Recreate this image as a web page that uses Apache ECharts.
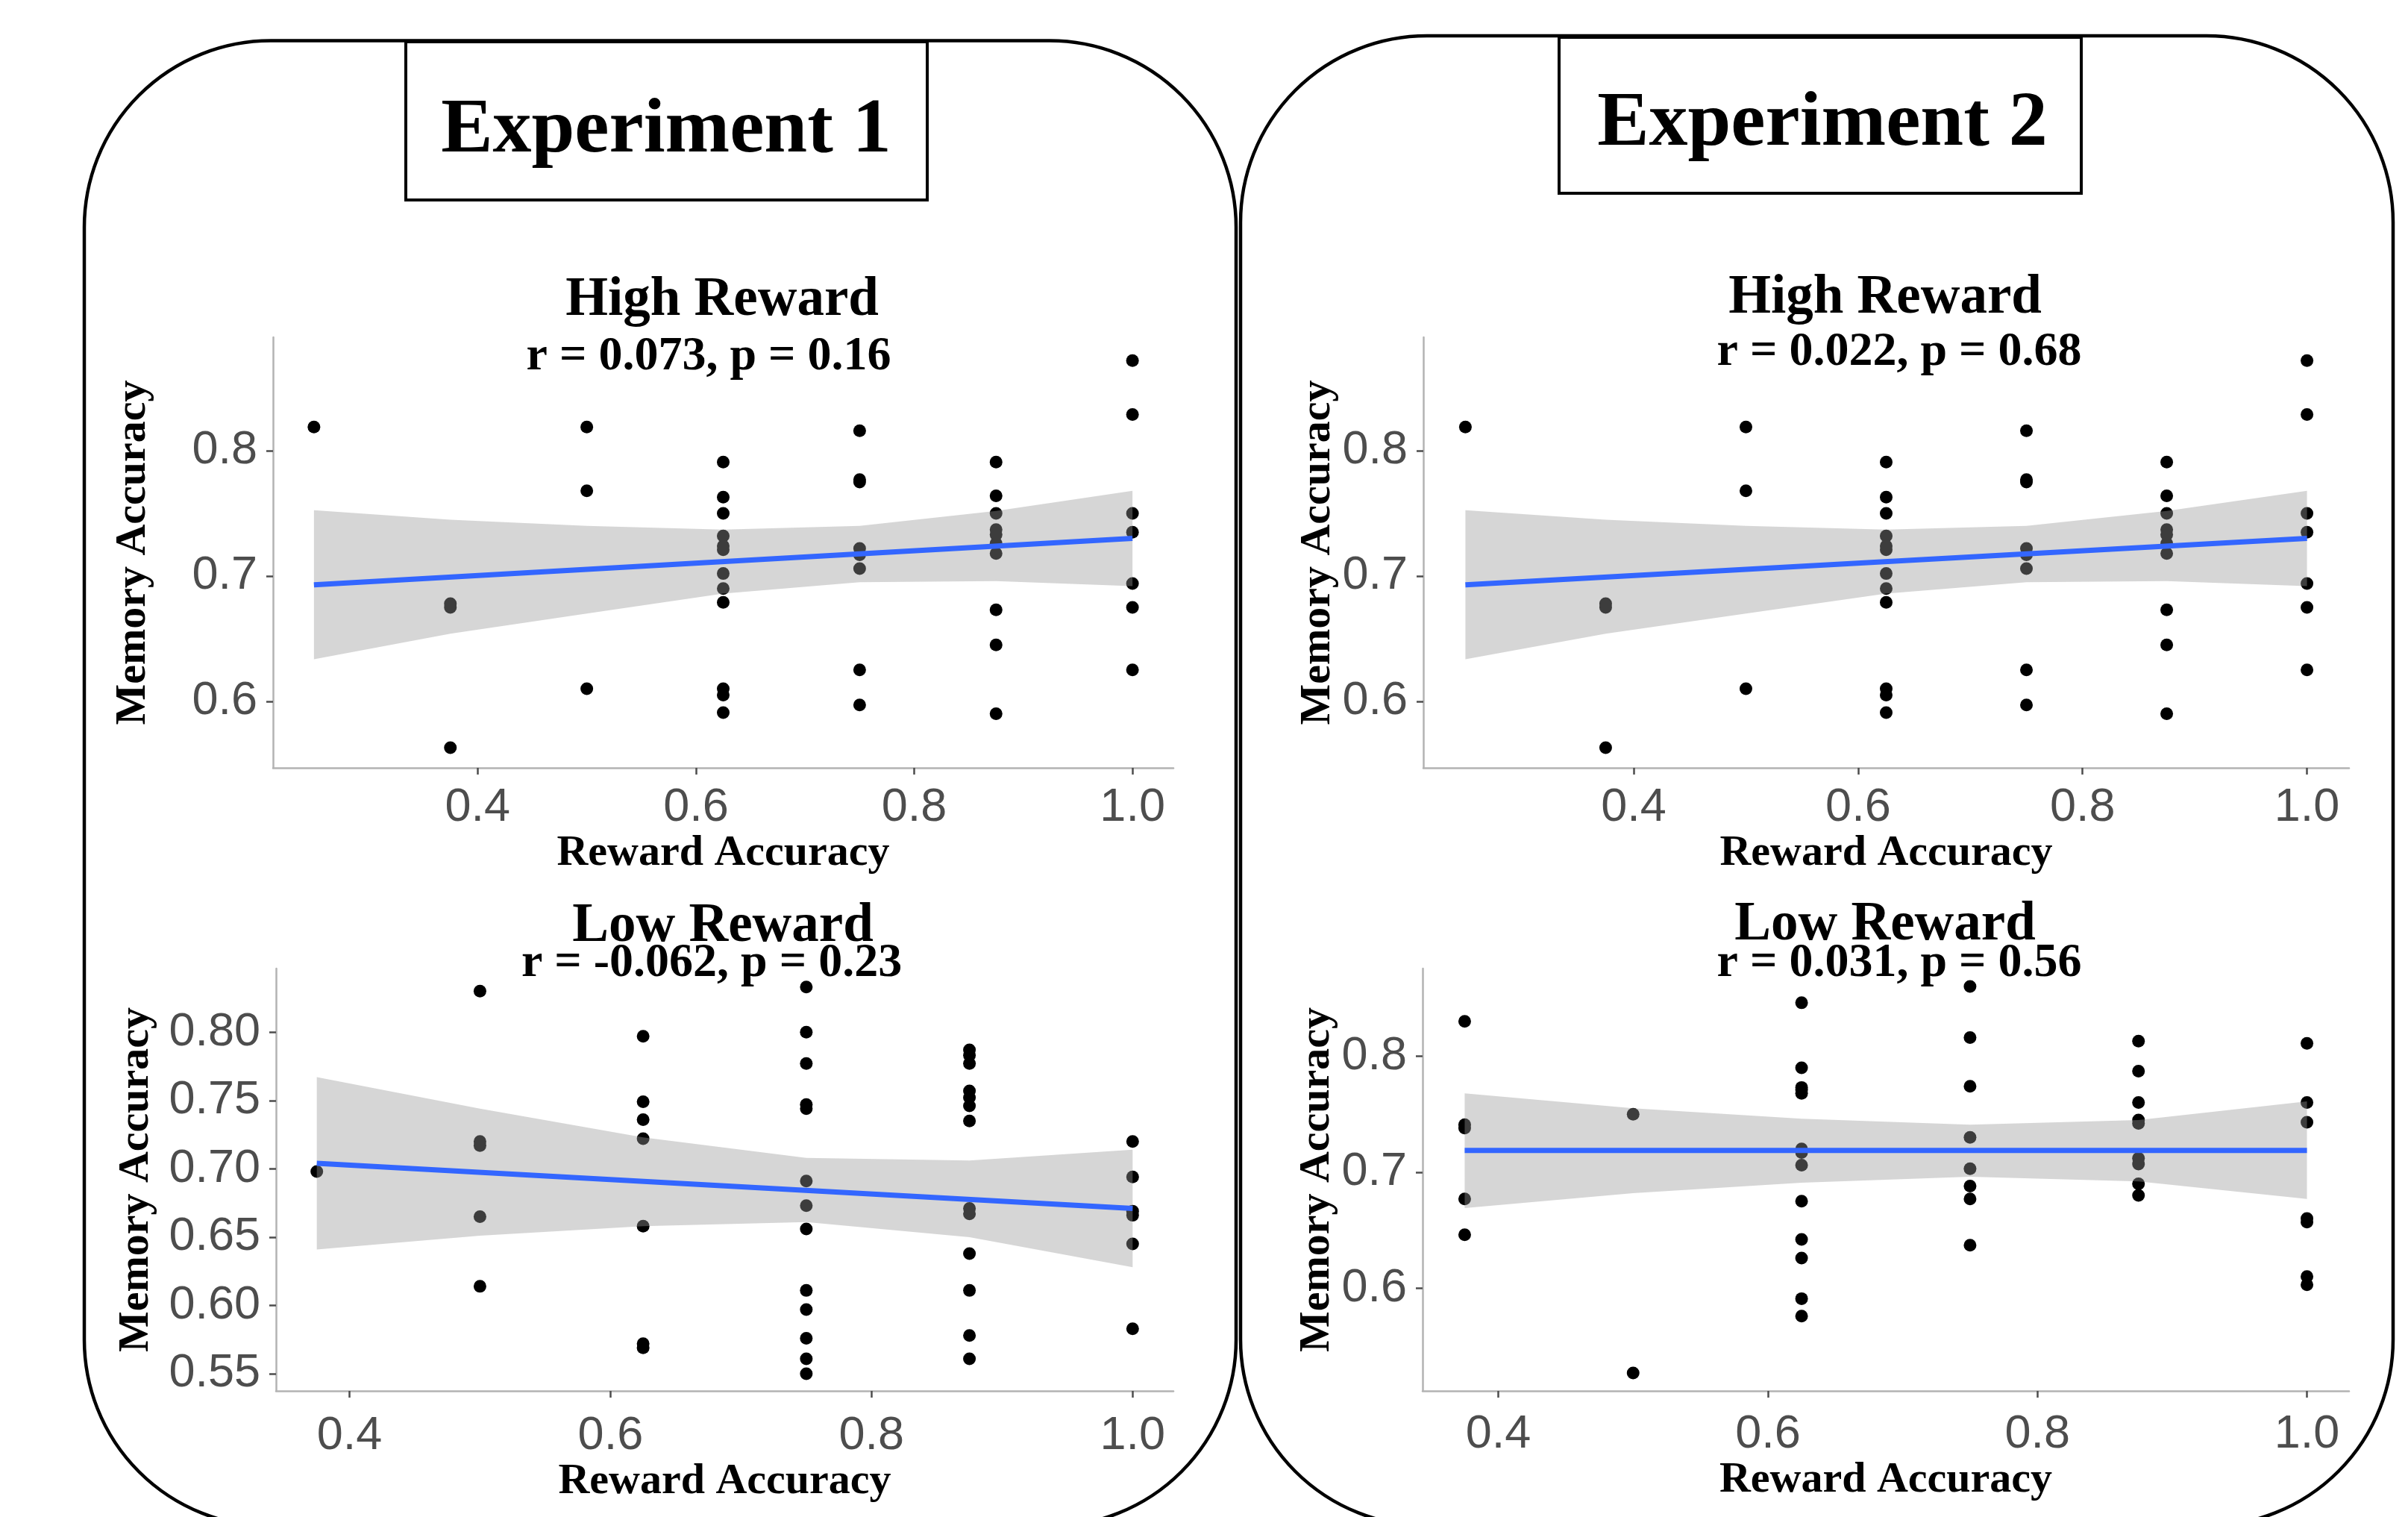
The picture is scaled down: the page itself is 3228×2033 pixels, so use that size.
<!DOCTYPE html>
<html>
<head>
<meta charset="utf-8">
<script src="https://cdn.jsdelivr.net/npm/echarts@6/dist/echarts.min.js"></script>
<style>
  html, body { margin: 0; padding: 0; background: #ffffff; }
  #chart { width: 3228px; height: 2033px; }
</style>
</head>
<body>
<div id="chart"></div>
<script>
// ---------------- DATA ----------------
const panelTitles = ['High Reward', 'High Reward', 'Low Reward', 'Low Reward'];
const panelStats = ['r = 0.073, p = 0.16', 'r = 0.022, p = 0.68', 'r = -0.062, p = 0.23', 'r = 0.031, p = 0.56'];
const experimentLabels = ['Experiment 1', 'Experiment 2'];
const xAxisName = 'Reward Accuracy';
const yAxisName = 'Memory Accuracy';

// reward accuracy levels (x)
const rewardLevelsHigh = [0.25, 0.375, 0.5, 0.625, 0.75, 0.875, 1.0];
const rewardLevelsLow = [0.375, 0.5, 0.625, 0.75, 0.875, 1.0];

// memory accuracy values (y) for each reward level
const exp1HighMemory = [
  [0.819],
  [0.678, 0.675, 0.563],
  [0.819, 0.768, 0.610],
  [0.791, 0.763, 0.750, 0.732, 0.724, 0.721, 0.702, 0.690, 0.679, 0.610, 0.605, 0.591],
  [0.816, 0.777, 0.775, 0.722, 0.717, 0.706, 0.625, 0.597],
  [0.791, 0.764, 0.750, 0.737, 0.733, 0.726, 0.718, 0.673, 0.645, 0.590],
  [0.872, 0.829, 0.750, 0.735, 0.694, 0.675, 0.625]
];
const exp2HighMemory = [
  [0.819],
  [0.678, 0.675, 0.563],
  [0.819, 0.768, 0.610],
  [0.791, 0.763, 0.750, 0.732, 0.724, 0.721, 0.702, 0.690, 0.679, 0.610, 0.605, 0.591],
  [0.816, 0.777, 0.775, 0.722, 0.717, 0.706, 0.625, 0.597],
  [0.791, 0.764, 0.750, 0.737, 0.733, 0.726, 0.718, 0.673, 0.645, 0.590],
  [0.872, 0.829, 0.750, 0.735, 0.694, 0.675, 0.625]
];
const exp1LowMemory = [
  [0.698],
  [0.830, 0.720, 0.717, 0.665, 0.614],
  [0.797, 0.749, 0.736, 0.722, 0.658, 0.572, 0.569],
  [0.833, 0.800, 0.777, 0.747, 0.744, 0.691, 0.673, 0.656, 0.611, 0.597, 0.576, 0.561, 0.550],
  [0.787, 0.783, 0.777, 0.757, 0.752, 0.746, 0.735, 0.671, 0.667, 0.638, 0.611, 0.578, 0.561],
  [0.720, 0.694, 0.669, 0.666, 0.645, 0.583]
];
const exp2LowMemory = [
  [0.830, 0.741, 0.738, 0.677, 0.646],
  [0.750, 0.527],
  [0.846, 0.790, 0.773, 0.771, 0.768, 0.720, 0.717, 0.706, 0.675, 0.642, 0.626, 0.591, 0.576],
  [0.860, 0.816, 0.774, 0.730, 0.703, 0.688, 0.677, 0.637],
  [0.813, 0.787, 0.760, 0.745, 0.742, 0.712, 0.707, 0.690, 0.680],
  [0.811, 0.760, 0.743, 0.660, 0.657, 0.610, 0.603]
];

// fitted regression lines (endpoints) and 95% CI band edges at each reward level
const exp1HighFitX = [0.25, 1.0];
const exp1HighFitY = [0.693, 0.730];
const exp1HighLower = [0.6335, 0.654, 0.670, 0.686, 0.695, 0.696, 0.692];
const exp1HighUpper = [0.7525, 0.745, 0.740, 0.737, 0.740, 0.752, 0.768];

const exp2HighFitX = [0.25, 1.0];
const exp2HighFitY = [0.693, 0.730];
const exp2HighLower = [0.6335, 0.654, 0.670, 0.686, 0.695, 0.696, 0.692];
const exp2HighUpper = [0.7525, 0.745, 0.740, 0.737, 0.740, 0.752, 0.768];

const exp1LowFitX = [0.375, 1.0];
const exp1LowFitY = [0.704, 0.671];
const exp1LowLower = [0.641, 0.651, 0.658, 0.661, 0.650, 0.628];
const exp1LowUpper = [0.767, 0.744, 0.723, 0.708, 0.706, 0.714];

const exp2LowFitX = [0.375, 1.0];
const exp2LowFitY = [0.7187, 0.7187];
const exp2LowLower = [0.669, 0.682, 0.691, 0.696, 0.692, 0.677];
const exp2LowUpper = [0.768, 0.755, 0.746, 0.741, 0.745, 0.761];

// tick labels
const xTicks = [0.4, 0.6, 0.8, 1.0];
const yTicksHigh = [0.6, 0.7, 0.8];
const yTicksLow1 = [0.55, 0.60, 0.65, 0.70, 0.75, 0.80];
const yTicksLow2 = [0.6, 0.7, 0.8];

// ---------------- LAYOUT ----------------
const SERIF = '"Liberation Serif", "Times New Roman", serif';
const SANS = '"Liberation Sans", Arial, sans-serif';

const panels = [
  { grid: { left: 366, top: 452, width: 1207, height: 577 }, xr: [0.2125, 1.0375], yr: [0.546875, 0.890625],
    levels: rewardLevelsHigh, mem: exp1HighMemory, fitX: exp1HighFitX, fitY: exp1HighFitY, lo: exp1HighLower, up: exp1HighUpper,
    yTicks: yTicksHigh, yDig: 1, xMargin: 22, nameGapX: 86, nameGapY: 158 },
  { grid: { left: 1908, top: 452, width: 1241, height: 577 }, xr: [0.2125, 1.0375], yr: [0.546875, 0.890625],
    levels: rewardLevelsHigh, mem: exp2HighMemory, fitX: exp2HighFitX, fitY: exp2HighFitY, lo: exp2HighLower, up: exp2HighUpper,
    yTicks: yTicksHigh, yDig: 1, xMargin: 22, nameGapX: 86, nameGapY: 112 },
  { grid: { left: 370, top: 1298, width: 1203, height: 566 }, xr: [0.34375, 1.03125], yr: [0.5375, 0.8465],
    levels: rewardLevelsLow, mem: exp1LowMemory, fitX: exp1LowFitX, fitY: exp1LowFitY, lo: exp1LowLower, up: exp1LowUpper,
    yTicks: yTicksLow1, yDig: 2, xMargin: 29, nameGapX: 84, nameGapY: 158 },
  { grid: { left: 1907, top: 1298, width: 1242, height: 566 }, xr: [0.34375, 1.03125], yr: [0.5115, 0.8755],
    levels: rewardLevelsLow, mem: exp2LowMemory, fitX: exp2LowFitX, fitY: exp2LowFitY, lo: exp2LowLower, up: exp2LowUpper,
    yTicks: yTicksLow2, yDig: 1, xMargin: 27, nameGapX: 84, nameGapY: 112 }
];

const titlePos = [
  { tx: 968, ty: 403, sx: 950, sy: 478 },
  { tx: 2527, ty: 400, sx: 2546, sy: 472 },
  { tx: 969, ty: 1242, sx: 954, sy: 1291 },
  { tx: 2527, ty: 1240, sx: 2546, sy: 1291 }
];

const grids = [], xAxes = [], yAxes = [], series = [];

panels.forEach((p, i) => {
  grids.push(Object.assign({ containLabel: false }, p.grid));
  xAxes.push({
    type: 'value', gridIndex: i, min: p.xr[0], max: p.xr[1],
    name: xAxisName, nameLocation: 'middle', nameGap: p.nameGapX,
    nameTextStyle: { fontFamily: SERIF, fontWeight: 'bold', fontSize: 58, color: '#000' },
    axisLine: { show: true, onZero: false, lineStyle: { color: '#b3b3b3', width: 2.5 } },
    axisTick: { show: true, length: 9, customValues: xTicks, lineStyle: { color: '#4d4d4d', width: 2.5 } },
    axisLabel: { show: true, margin: p.xMargin, customValues: xTicks, fontFamily: SANS, fontSize: 63, color: '#4d4d4d',
      formatter: v => Number(v).toFixed(1) },
    splitLine: { show: false }
  });
  yAxes.push({
    type: 'value', gridIndex: i, min: p.yr[0], max: p.yr[1],
    name: yAxisName, nameLocation: 'middle', nameGap: p.nameGapY, nameRotate: 90,
    nameTextStyle: { fontFamily: SERIF, fontWeight: 'bold', fontSize: 58, color: '#000' },
    axisLine: { show: true, onZero: false, lineStyle: { color: '#b3b3b3', width: 2.5 } },
    axisTick: { show: true, length: 9, customValues: p.yTicks, lineStyle: { color: '#4d4d4d', width: 2.5 } },
    axisLabel: { show: true, margin: 21, customValues: p.yTicks, fontFamily: SANS, fontSize: 63, color: '#4d4d4d',
      formatter: v => Number(v).toFixed(p.yDig) },
    splitLine: { show: false }
  });

  // scatter points
  const pts = [];
  p.levels.forEach((x, k) => p.mem[k].forEach(y => pts.push([x, y])));
  series.push({
    type: 'scatter', xAxisIndex: i, yAxisIndex: i, data: pts, symbolSize: 17,
    itemStyle: { color: '#000000', opacity: 1 }, z: 2, silent: true
  });

  // CI band drawn as one polygon through the library's coordinate system
  const bandData = p.levels.map((x, k) => [x, p.lo[k], p.up[k]]);
  series.push({
    type: 'custom', xAxisIndex: i, yAxisIndex: i, data: bandData, z: 3, silent: true,
    encode: { x: 0, y: [1, 2] },
    renderItem: function (params, api) {
      if (params.dataIndex !== 0) return null;
      const upperPts = bandData.map(d => api.coord([d[0], d[2]]));
      const lowerPts = bandData.map(d => api.coord([d[0], d[1]])).reverse();
      return {
        type: 'polygon',
        shape: { points: upperPts.concat(lowerPts) },
        style: { fill: 'rgba(153,153,153,0.4)', stroke: null }
      };
    }
  });

  // regression line
  series.push({
    type: 'line', xAxisIndex: i, yAxisIndex: i,
    data: p.fitX.map((x, k) => [x, p.fitY[k]]),
    symbol: 'none', lineStyle: { color: '#3366FF', width: 7 }, z: 4, silent: true
  });
});

// ---------------- DECORATION ----------------
const graphics = [
  { type: 'rect', z: 0, shape: { x: 113, y: 54.5, width: 1544, height: 1991, r: 250 },
    style: { fill: 'none', stroke: '#000', lineWidth: 4.5 }, silent: true },
  { type: 'rect', z: 0, shape: { x: 1663, y: 48, width: 1545, height: 1997, r: 250 },
    style: { fill: 'none', stroke: '#000', lineWidth: 4.5 }, silent: true },
  { type: 'rect', z: 1, shape: { x: 544, y: 56, width: 699, height: 212 },
    style: { fill: '#fff', stroke: '#000', lineWidth: 4 }, silent: true },
  { type: 'rect', z: 1, shape: { x: 2090, y: 50, width: 700, height: 209 },
    style: { fill: '#fff', stroke: '#000', lineWidth: 4 }, silent: true },
  { type: 'text', z: 2, x: 893, y: 176,
    style: { text: experimentLabels[0], font: 'bold 104px ' + SERIF, fill: '#000', textAlign: 'center', textVerticalAlign: 'middle', align: 'center', verticalAlign: 'middle' } },
  { type: 'text', z: 2, x: 2443, y: 167,
    style: { text: experimentLabels[1], font: 'bold 104px ' + SERIF, fill: '#000', textAlign: 'center', textVerticalAlign: 'middle', align: 'center', verticalAlign: 'middle' } }
];
titlePos.forEach((t, i) => {
  graphics.push({ type: 'text', z: 5, x: t.tx, y: t.ty,
    style: { text: panelTitles[i], font: 'bold 73px ' + SERIF, fill: '#000', textAlign: 'center', textVerticalAlign: 'middle', align: 'center', verticalAlign: 'middle' } });
  graphics.push({ type: 'text', z: 5, x: t.sx, y: t.sy,
    style: { text: panelStats[i], font: 'bold 64px ' + SERIF, fill: '#000', textAlign: 'center', textVerticalAlign: 'middle', align: 'center', verticalAlign: 'middle' } });
});

const chart = echarts.init(document.getElementById('chart'), null, { renderer: 'canvas' });
chart.setOption({
  backgroundColor: '#ffffff',
  animation: false,
  grid: grids,
  xAxis: xAxes,
  yAxis: yAxes,
  series: series,
  graphic: { elements: graphics }
});
</script>
</body>
</html>
